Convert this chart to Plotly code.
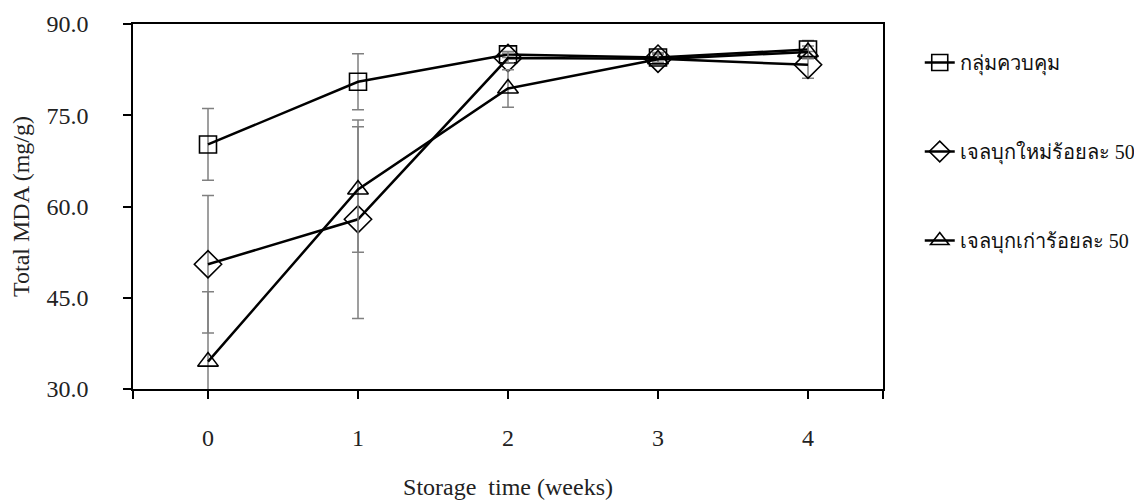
import plotly.graph_objects as go

weeks = [0, 1, 2, 3, 4]
x_tick_vals = [-0.5, 0, 1, 2, 3, 4, 4.5]
x_tick_text = ["", "0", "1", "2", "3", "4", ""]
y_tick_vals = [30, 45, 60, 75, 90]
y_tick_text = ["30.0", "45.0", "60.0", "75.0", "90.0"]

names = ["กลุ่มควบคุม", "เจลบุกใหม่ร้อยละ 50", "เจลบุกเก่าร้อยละ 50"]
control = [70.2, 80.5, 85.0, 84.5, 85.8]
control_err = [5.9, 4.6, 0.5, 0.8, 1.5]
new_gel = [50.5, 57.9, 84.4, 84.3, 83.3]
new_gel_err = [11.3, 16.3, 0.8, 0.8, 2.2]
old_gel = [34.5, 62.8, 79.4, 84.2, 85.4]
old_gel_err = [11.5, 10.3, 3.1, 0.8, 1.0]

series = [
    (names[0], control, control_err, "square-open", 17),
    (names[1], new_gel, new_gel_err, "diamond-open", 21),
    (names[2], old_gel, old_gel_err, "triangle-up-open", 18),
]

FONT = "Liberation Serif, Times New Roman, serif"

fig = go.Figure()
for i, (name, vals, errs, sym, size) in enumerate(series):
    fig.add_trace(go.Scatter(
        x=weeks, y=vals, name=name, mode="lines+markers",
        legendgroup=f"g{i}",
        line=dict(color="black", width=2.5),
        marker=dict(symbol=sym, size=size, color="black", line=dict(width=1.6, color="black")),
        error_y=dict(type="data", array=errs, visible=True, color="#808080", thickness=1.5, width=6),
        cliponaxis=True,
    ))

fig.update_layout(
    width=1134, height=492,
    margin=dict(l=125, r=259, t=16, b=111, autoexpand=False),
    paper_bgcolor="white", plot_bgcolor="white",
    font=dict(family=FONT, size=24, color="#222222"),
    showlegend=True,
    legend=dict(x=1.049, y=0.948, xanchor="left", yanchor="top",
                font=dict(family=FONT, size=20, color="#111111"),
                tracegroupgap=60, bgcolor="rgba(0,0,0,0)"),
    xaxis=dict(range=[-0.5, 4.5], tickmode="array", tickvals=x_tick_vals, ticktext=x_tick_text,
               automargin=False,
               showgrid=False, zeroline=False, showline=True, linecolor="black", linewidth=1.5,
               mirror=True, ticks="outside", ticklen=8, tickwidth=1.5, tickcolor="black",
               ticklabelstandoff=18,
               title=dict(text="Storage  time (weeks)", font=dict(family=FONT, size=24), standoff=34)),
    yaxis=dict(range=[30, 90], tickmode="array", tickvals=y_tick_vals, ticktext=y_tick_text,
               automargin=False,
               showgrid=False, zeroline=False, showline=True, linecolor="black", linewidth=1.5,
               mirror=True, ticks="outside", ticklen=8, tickwidth=1.5, tickcolor="black",
               ticklabelstandoff=30,
               title=dict(text="Total MDA (mg/g)", font=dict(family=FONT, size=24), standoff=14)),
)

fig.write_html("out.html")
